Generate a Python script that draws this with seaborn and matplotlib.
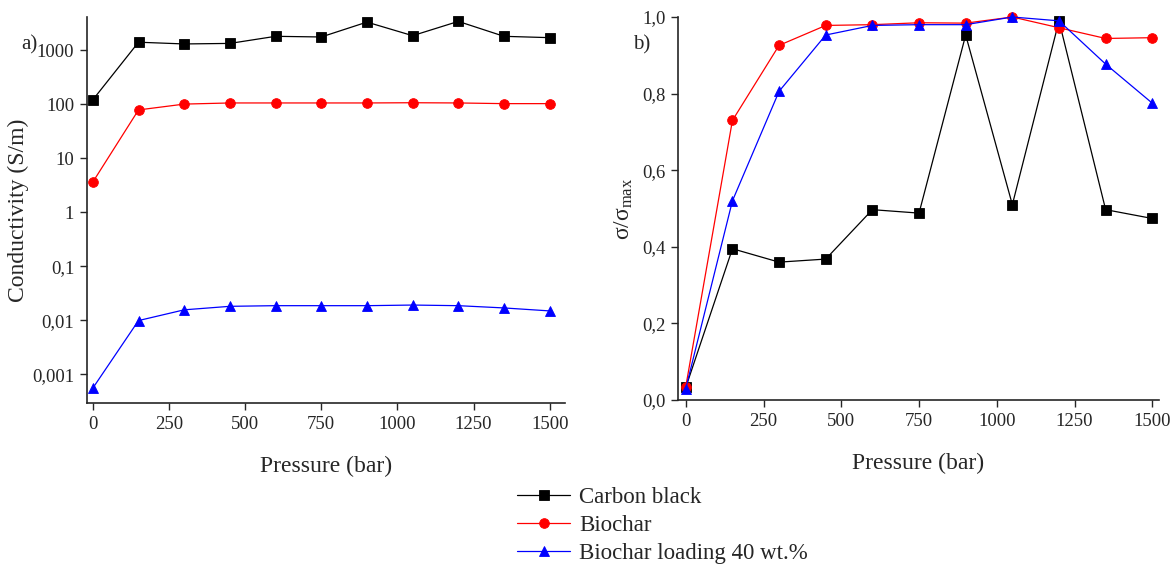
import numpy as np
import pandas as pd
import seaborn as sns
import matplotlib
matplotlib.use("Agg")
from matplotlib import pyplot as plt
from matplotlib.ticker import FixedLocator, FuncFormatter, NullLocator

pressure = [0, 150, 300, 450, 600, 750, 900, 1050, 1200, 1350, 1500]
series_names = ["Carbon black", "Biochar", "Biochar loading 40 wt.%"]

# conductivity (S/m), panel a
cond_cb = [120, 1400, 1300, 1330, 1800, 1750, 3300, 1850, 3400, 1800, 1700]
cond_bc = [3.6, 78, 100, 105, 105, 105, 105, 106, 105, 102, 102]
cond_load = [0.00055, 0.0098, 0.0155, 0.018, 0.0185, 0.0185, 0.0185, 0.019, 0.0185, 0.0168, 0.0148]

# normalised conductivity, panel b
norm_cb = [0.033, 0.395, 0.36, 0.368, 0.497, 0.488, 0.953, 0.51, 0.99, 0.497, 0.474]
norm_bc = [0.035, 0.73, 0.926, 0.978, 0.98, 0.985, 0.984, 1.0, 0.972, 0.944, 0.946]
norm_load = [0.03, 0.52, 0.806, 0.953, 0.978, 0.98, 0.98, 1.0, 0.99, 0.877, 0.775]

sns.set_style("ticks")
plt.rcParams['font.family'] = ['Liberation Serif', 'DejaVu Serif']
plt.rcParams['mathtext.fontset'] = 'custom'
plt.rcParams['mathtext.rm'] = 'Liberation Serif'
plt.rcParams['mathtext.it'] = 'Liberation Serif'

def long_df(a, b, c):
    rows = []
    for name, vals in zip(series_names, [a, b, c]):
        for p, v in zip(pressure, vals):
            rows.append({'Pressure': p, 'value': v, 'series': name})
    return pd.DataFrame(rows)

df_a = long_df(cond_cb, cond_bc, cond_load)
df_b = long_df(norm_cb, norm_bc, norm_load)

palette = {"Carbon black": "black", "Biochar": "red", "Biochar loading 40 wt.%": "blue"}
markers = {"Carbon black": "s", "Biochar": "o", "Biochar loading 40 wt.%": "^"}

fig = plt.figure(figsize=(11.72, 5.67), dpi=100)
ax1 = fig.add_axes([0.074, 0.289, 0.408, 0.681])
ax2 = fig.add_axes([0.5785, 0.2945, 0.41, 0.6755])

comma = FuncFormatter(lambda v, pos: ('%g' % v).replace('.', ','))

for ax, d in [(ax1, df_a), (ax2, df_b)]:
    sns.lineplot(data=d, x='Pressure', y='value', hue='series', style='series',
                 palette=palette, markers=markers, dashes=False, linewidth=0.9,
                 markersize=7, markeredgewidth=0.6, ax=ax, legend=(ax is ax1))
    for ln in ax.lines:
        ln.set_clip_on(False)
        ln.set_markeredgecolor(ln.get_color())
    sns.despine(ax=ax)
    ax.tick_params(direction='out', length=5, width=1, labelsize=13.5, pad=4)
    for s in ['left', 'bottom']:
        ax.spines[s].set_linewidth(1.2)
    ax.set_xticks([0, 250, 500, 750, 1000, 1250, 1500])
    ax.set_xlabel('Pressure (bar)', fontsize=17, labelpad=17)

ax1.set_yscale('log')
ax1.set_xlim(-20, 1550)
ax1.set_ylim(2.9e-4, 4100)
ax1.yaxis.set_major_locator(FixedLocator([0.001, 0.01, 0.1, 1, 10, 100, 1000]))
ax1.yaxis.set_minor_locator(NullLocator())
ax1.yaxis.set_major_formatter(comma)
ax1.set_ylabel('Conductivity (S/m)', fontsize=17, labelpad=2)

ax2.set_xlim(-25, 1520)
ax2.set_ylim(0, 1.0)
ax2.set_yticks([0, 0.2, 0.4, 0.6, 0.8, 1.0])
ax2.yaxis.set_major_formatter(FuncFormatter(lambda v, pos: ('%.1f' % v).replace('.', ',')))
ax2.set_ylabel(r'$\sigma/\sigma_{\rm max}$', fontsize=17, labelpad=5)

fig.text(21 / 1172, 1 - 45 / 567, 'a)', fontsize=15, va='center')
fig.text(633 / 1172, 1 - 45 / 567, 'b)', fontsize=15, va='center')

handles, labels = ax1.get_legend_handles_labels()
ax1.get_legend().remove()
fig.legend(handles, labels, loc='upper left', bbox_to_anchor=(508 / 1172, 1 - 478 / 567),
           frameon=False, fontsize=16.5, handlelength=2.3, labelspacing=0.3, handletextpad=0.4,
           borderaxespad=0)

fig.savefig('out.png', dpi=100)
